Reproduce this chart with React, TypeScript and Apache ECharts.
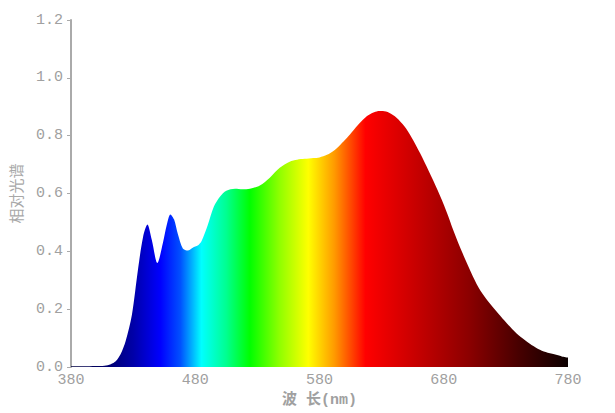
import React, { useEffect, useRef } from "react";
import * as echarts from "echarts";

const wavelengths = [380, 390, 400, 407, 412, 416, 420, 424, 429, 434, 438, 441.5, 445, 449.5, 454, 457, 460, 463, 466, 470, 474, 478, 482, 485, 490, 495, 500, 505, 512, 518, 524, 532, 540, 548, 556, 562, 568, 575, 580, 586, 592, 597, 602, 607, 612, 618, 622, 626, 631, 636, 642, 648, 654, 661, 668, 675, 682, 688, 695, 702, 708, 715, 722, 729, 735, 742, 749, 756, 762, 769, 775, 780];
const intensity = [0.003, 0.003, 0.004, 0.005, 0.01, 0.02, 0.045, 0.09, 0.18, 0.34, 0.45, 0.493, 0.44, 0.36, 0.43, 0.49, 0.528, 0.51, 0.46, 0.41, 0.403, 0.413, 0.42, 0.435, 0.49, 0.555, 0.59, 0.61, 0.617, 0.615, 0.617, 0.628, 0.655, 0.689, 0.71, 0.717, 0.72, 0.723, 0.725, 0.734, 0.75, 0.77, 0.792, 0.817, 0.842, 0.867, 0.878, 0.884, 0.885, 0.879, 0.862, 0.834, 0.795, 0.739, 0.677, 0.612, 0.54, 0.47, 0.395, 0.327, 0.275, 0.231, 0.195, 0.16, 0.132, 0.104, 0.082, 0.063, 0.052, 0.044, 0.037, 0.033];

const xTicks = [380, 480, 580, 680, 780];
const yTicks = [0, 0.2, 0.4, 0.6, 0.8, 1.0, 1.2];

const spectrumStops: [number, string][] = [
  [380, "#00003c"],
  [410, "#000070"],
  [430, "#0000a8"],
  [452, "#0000ff"],
  [468, "#0050ff"],
  [485, "#00ffff"],
  [505, "#00ff90"],
  [524, "#00ff00"],
  [548, "#90ff00"],
  [571, "#ffff00"],
  [592, "#ff9a00"],
  [617, "#ff0000"],
  [650, "#d20000"],
  [700, "#8c0000"],
  [740, "#480000"],
  [780, "#0c0000"],
];

export default function App() {
  const ref = useRef<HTMLDivElement>(null);
  useEffect(() => {
    if (!ref.current) return;
    const chart = echarts.init(ref.current, null, { renderer: "svg" });
    const xMin = xTicks[0];
    const xMax = xTicks[xTicks.length - 1];
    const grad = new echarts.graphic.LinearGradient(
      0, 0, 1, 0,
      spectrumStops.map(([nm, c]) => ({ offset: (nm - xMin) / (xMax - xMin), color: c }))
    );
    const mono = "'Liberation Mono', 'DejaVu Sans Mono', monospace";
    chart.setOption({
      animation: false,
      backgroundColor: "#ffffff",
      grid: { left: 71, right: 47, top: 20, bottom: 45, containLabel: false },
      xAxis: {
        type: "value",
        min: xMin,
        max: xMax,
        interval: 100,
        axisLine: { show: false },
        axisTick: { show: false },
        splitLine: { show: false },
        axisLabel: { color: "#a0a0a0", fontFamily: mono, fontSize: 15, margin: 6 },
        name: "波 长(nm)",
        nameLocation: "middle",
        nameGap: 18,
        nameTextStyle: {
          color: "#a0a0a0",
          fontSize: 15,
          fontWeight: "bold",
          fontFamily: "'Liberation Mono', 'Noto Sans CJK SC', monospace",
        },
      },
      yAxis: {
        type: "value",
        min: yTicks[0],
        max: yTicks[yTicks.length - 1],
        interval: 0.2,
        axisLine: { show: true, lineStyle: { color: "#aaaaaa", width: 2 } },
        axisTick: { show: true, length: 4, lineStyle: { color: "#aaaaaa", width: 1 } },
        splitLine: { show: false },
        axisLabel: {
          color: "#a0a0a0",
          fontFamily: mono,
          fontSize: 15,
          margin: 8,
          formatter: (v: number) => v.toFixed(1),
        },
        name: "相对光谱",
        nameLocation: "middle",
        nameGap: 48,
        nameTextStyle: {
          color: "#a8a8a8",
          fontSize: 15,
          fontFamily: "'Noto Sans CJK SC', sans-serif",
        },
      },
      series: [
        {
          type: "line",
          data: wavelengths.map((w, i) => [w, intensity[i]]),
          smooth: 0.3,
          symbol: "none",
          lineStyle: { width: 0 },
          areaStyle: { color: grad, opacity: 1 },
        },
      ],
    });
    return () => chart.dispose();
  }, []);
  return <div ref={ref} style={{ width: 615, height: 413, position: "absolute", left: 0, top: 0 }} />;
}
